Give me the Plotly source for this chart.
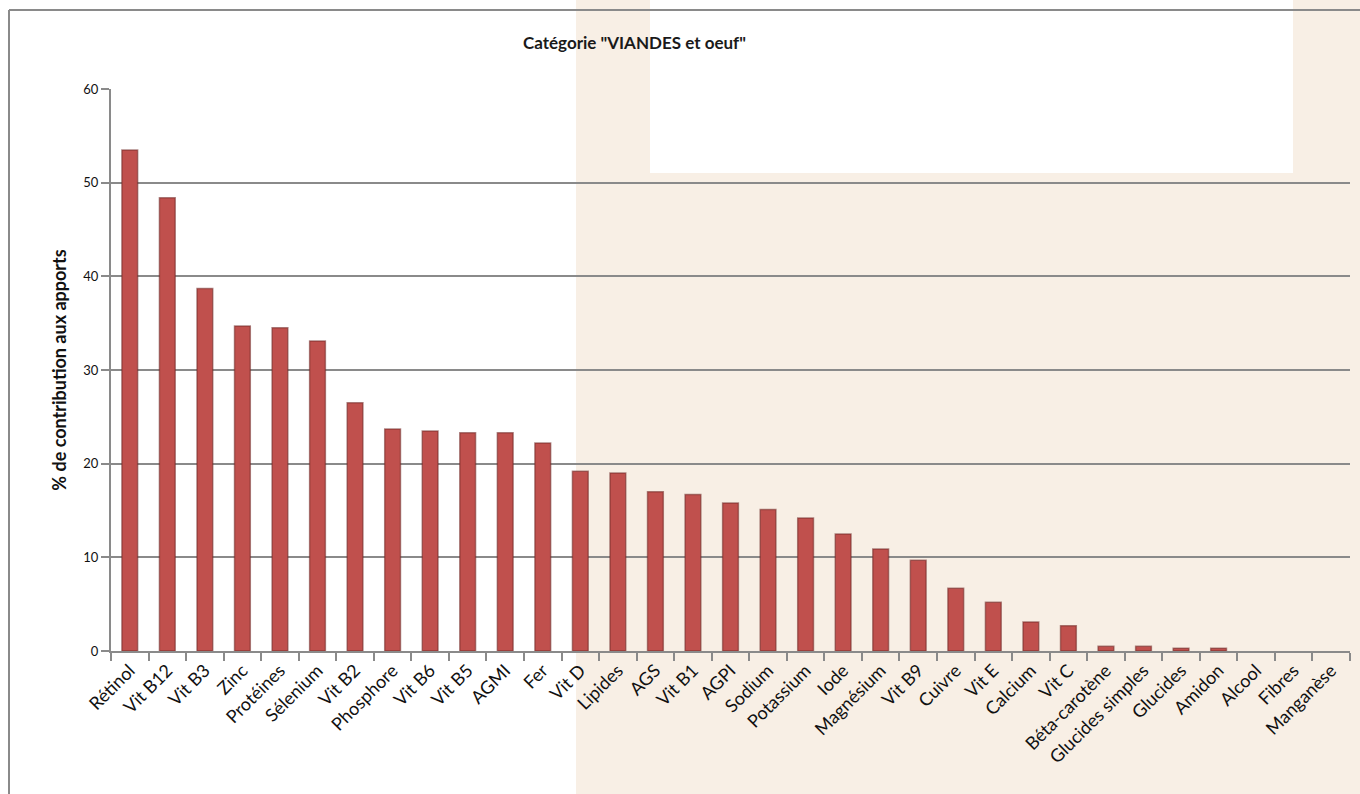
import plotly.graph_objects as go

categories = ["Rétinol", "Vit B12", "Vit B3", "Zinc", "Protéines", "Sélenium", "Vit B2",
              "Phosphore", "Vit B6", "Vit B5", "AGMI", "Fer", "Vit D", "Lipides", "AGS",
              "Vit B1", "AGPI", "Sodium", "Potassium", "Iode", "Magnésium", "Vit B9",
              "Cuivre", "Vit E", "Calcium", "Vit C", "Béta-carotène", "Glucides simples",
              "Glucides", "Amidon", "Alcool", "Fibres", "Manganèse"]
values = [53.5, 48.4, 38.7, 34.7, 34.5, 33.1, 26.5,
          23.7, 23.5, 23.3, 23.3, 22.2, 19.2, 19.0, 17.0,
          16.7, 15.8, 15.1, 14.2, 12.5, 10.9, 9.7,
          6.7, 5.2, 3.1, 2.7, 0.5, 0.5,
          0.3, 0.3, 0.0, 0.0, 0.0]
y_ticks = [0, 10, 20, 30, 40, 50, 60]

W, H = 1360, 794
L, R, T, B = 111, 10, 89, 143
pw = W - L - R
ph = H - T - B

def px_x(p):
    return (p - L) / pw

def px_y(p):
    return (H - B - p) / ph

line_widths = [1.5 if v > 0 else 0 for v in values]

fig = go.Figure()
fig.add_trace(go.Bar(
    x=categories, y=values,
    marker=dict(color="#C0504D", line=dict(color="rgba(110,40,38,0.55)", width=line_widths)),
    width=0.42,
))

shapes = [
    dict(type="rect", xref="paper", yref="paper", x0=px_x(576), x1=px_x(1360),
         y0=px_y(794), y1=px_y(0), fillcolor="#F8EFE5", line=dict(width=0), layer="below"),
    dict(type="rect", xref="paper", yref="paper", x0=px_x(650), x1=px_x(1293),
         y0=px_y(173), y1=px_y(0), fillcolor="#FFFFFF", line=dict(width=0), layer="below"),
    dict(type="line", xref="paper", yref="paper", x0=px_x(9), x1=px_x(1360),
         y0=px_y(10), y1=px_y(10), line=dict(color="#8A8A8A", width=2), layer="above"),
    dict(type="line", xref="paper", yref="paper", x0=px_x(9), x1=px_x(9),
         y0=px_y(10), y1=px_y(794), line=dict(color="#8A8A8A", width=2), layer="above"),
]

fig.update_layout(
    width=W, height=H,
    margin=dict(l=L, r=R, t=T, b=B),
    paper_bgcolor="white",
    plot_bgcolor="rgba(0,0,0,0)",
    shapes=shapes,
    showlegend=False,
    bargap=0.58,
    title=dict(text='<b>Catégorie "VIANDES et oeuf"</b>', x=px_x(689), xanchor="center",
               y=1 - 43 / H, yanchor="middle",
               font=dict(family="Lato, Open Sans, sans-serif", size=17, color="#1a1a1a")),
    font=dict(family="Lato, Open Sans, sans-serif", color="#111"),
)
fig.update_xaxes(
    type="category", tickangle=-45, tickson="boundaries",
    ticks="outside", ticklen=8, tickcolor="#8A8A8A", tickwidth=2,
    showline=True, linecolor="#8A8A8A", linewidth=2,
    tickfont=dict(size=18, color="#111"),
    showgrid=False, range=[-0.5, len(categories) - 0.5],
)
fig.update_yaxes(
    range=[0, 60], tickvals=y_ticks, ticks="outside", ticklen=8,
    tickcolor="#8A8A8A", tickwidth=2,
    showline=True, linecolor="#8A8A8A", linewidth=2,
    showgrid=True, gridcolor="#8A8A8A", gridwidth=2,
    tickfont=dict(size=13, color="#111"),
    title=dict(text="<b>% de contribution aux apports</b>", font=dict(size=18, color="#111"),
               standoff=12),
    zeroline=False,
)

fig.write_html("out.html")
